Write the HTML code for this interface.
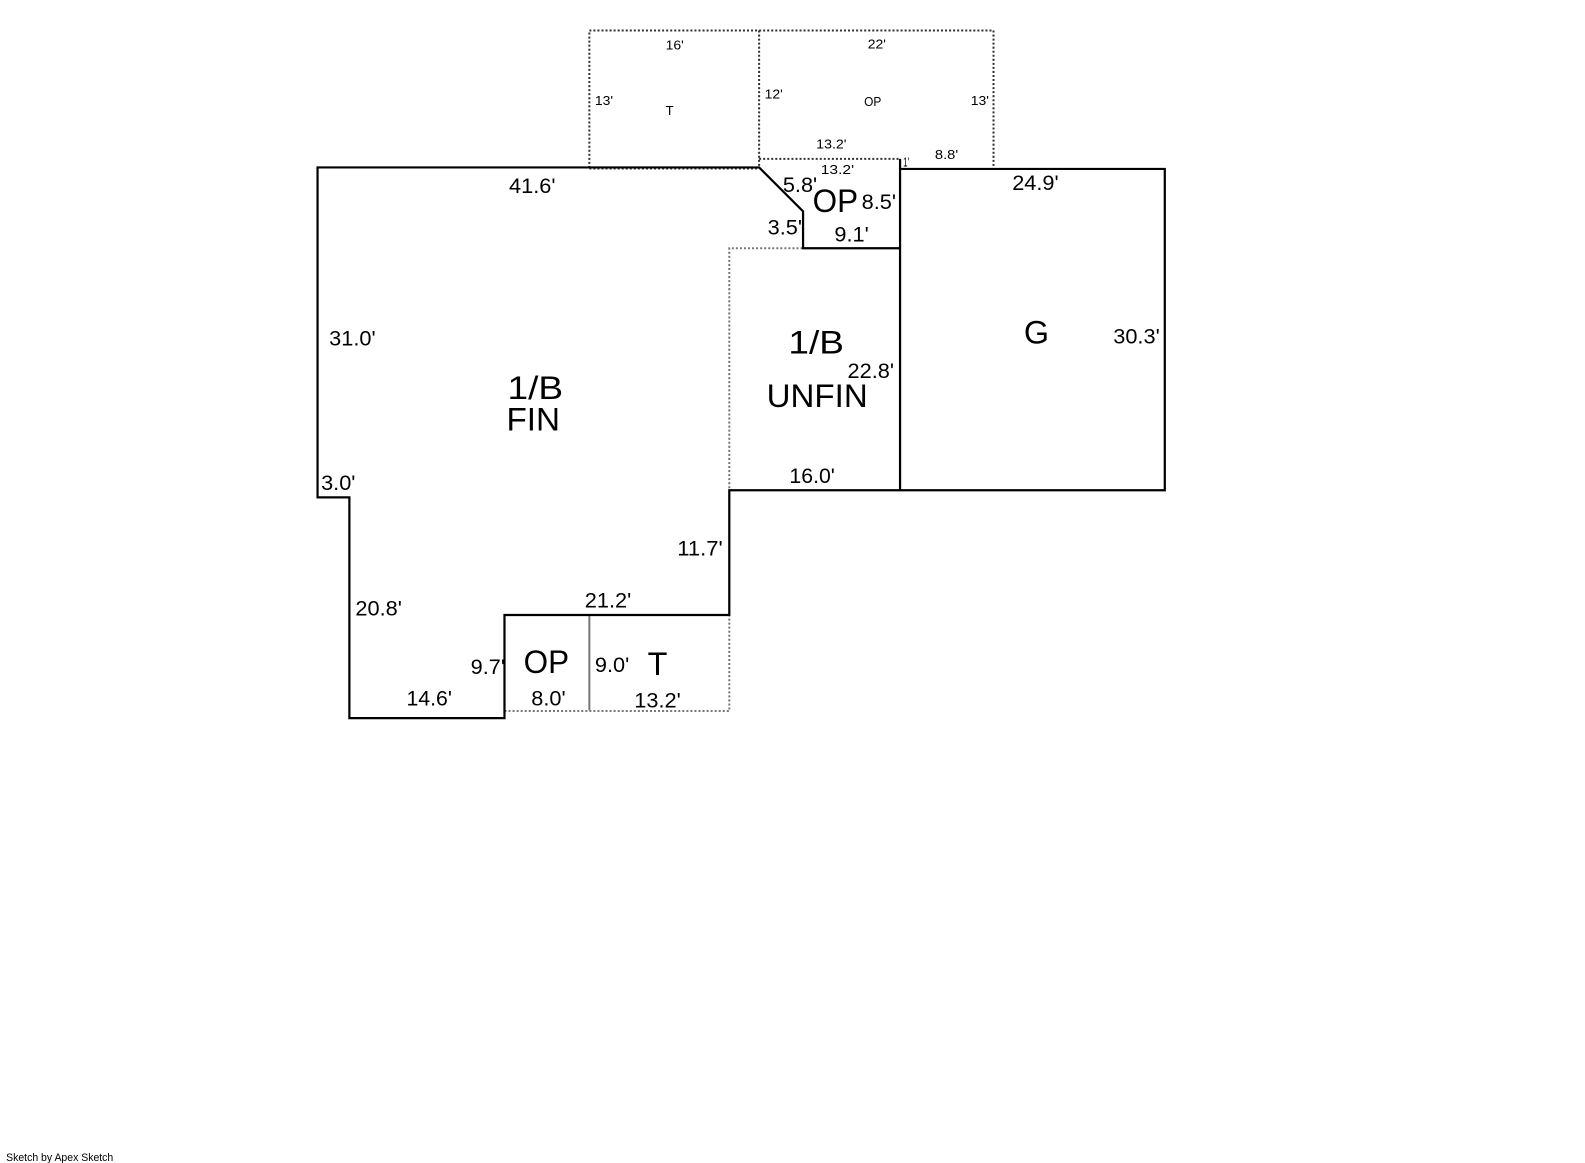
<!DOCTYPE html>
<html>
<head>
<meta charset="utf-8">
<style>
html,body{margin:0;padding:0;background:#fff;width:1585px;height:1163px;overflow:hidden}
svg{display:block}
text{font-family:"Liberation Sans",sans-serif;fill:#000;text-anchor:middle}
.m{font-size:21px}
.s{font-size:13px}
.l{font-size:32px}
</style>
</head>
<body>
<svg width="1585" height="1163" viewBox="0 0 1568.500 1151" xmlns="http://www.w3.org/2000/svg">
<g transform="translate(0.2 0.2)">
<g fill="none" stroke="#333" stroke-width="2" stroke-dasharray="2 2">
<path d="M583 166V30H983V165"/>
<path d="M751 30V165"/>
<path d="M583 166.500H751"/>
<path d="M751 157H890"/>
</g>
<g fill="none" stroke="#777" stroke-width="2" stroke-dasharray="2 2">
<path d="M794 245.500H721.500V485"/>
<path d="M499 703.500H721.500V609"/>
</g>
<path d="M583 609V703" stroke="#777" stroke-width="2" fill="none"/>
<g fill="none" stroke="#000" stroke-width="2.200">
<path d="M583 165.500H314V492H345.500V710.500H499V608.500H721.500V485H1152.500V167H890.500V485"/>
<path d="M583 165.500H751L794.500 209V245.500H890"/>
<path d="M890.500 157V167"/>
</g>
</g>
<g transform="translate(0.7 0)">
<text class="m" lengthAdjust="spacingAndGlyphs" x="526" y="191" textLength="46">41.6'</text>
<text class="m" lengthAdjust="spacingAndGlyphs" x="348" y="342" textLength="46">31.0'</text>
<text class="m" lengthAdjust="spacingAndGlyphs" x="334" y="485" textLength="34">3.0'</text>
<text class="m" lengthAdjust="spacingAndGlyphs" x="374" y="609" textLength="46">20.8'</text>
<text class="m" lengthAdjust="spacingAndGlyphs" x="692" y="550" textLength="45">11.7'</text>
<text class="m" lengthAdjust="spacingAndGlyphs" x="601" y="601" textLength="46">21.2'</text>
<text class="m" lengthAdjust="spacingAndGlyphs" x="424" y="698" textLength="45">14.6'</text>
<text class="m" lengthAdjust="spacingAndGlyphs" x="482" y="667" textLength="34">9.7'</text>
<text class="m" lengthAdjust="spacingAndGlyphs" x="542" y="698" textLength="34">8.0'</text>
<text class="m" lengthAdjust="spacingAndGlyphs" x="605" y="665" textLength="34">9.0'</text>
<text class="m" lengthAdjust="spacingAndGlyphs" x="650" y="700" textLength="46">13.2'</text>
<text class="m" lengthAdjust="spacingAndGlyphs" x="803" y="478" textLength="45">16.0'</text>
<text class="m" lengthAdjust="spacingAndGlyphs" x="861" y="374" textLength="46">22.8'</text>
<text class="m" lengthAdjust="spacingAndGlyphs" x="1124" y="340" textLength="46">30.3'</text>
<text class="m" lengthAdjust="spacingAndGlyphs" x="1024" y="188" textLength="46">24.9'</text>
<text class="m" lengthAdjust="spacingAndGlyphs" x="791" y="190" textLength="34">5.8'</text>
<text class="m" lengthAdjust="spacingAndGlyphs" x="869" y="207" textLength="34">8.5'</text>
<text class="m" lengthAdjust="spacingAndGlyphs" x="776" y="232" textLength="34">3.5'</text>
<text class="m" lengthAdjust="spacingAndGlyphs" x="842" y="239" textLength="34">9.1'</text>
<text class="l" lengthAdjust="spacingAndGlyphs" x="529" y="395" textLength="55">1/B</text>
<text class="l" lengthAdjust="spacingAndGlyphs" x="527" y="426" textLength="53">FIN</text>
<text class="l" lengthAdjust="spacingAndGlyphs" x="807" y="350" textLength="55">1/B</text>
<text class="l" lengthAdjust="spacingAndGlyphs" x="808" y="403" textLength="100">UNFIN</text>
<text class="l" x="1025" y="340">G</text>
<text class="l" lengthAdjust="spacingAndGlyphs" x="826" y="210" textLength="45">OP</text>
<text class="l" lengthAdjust="spacingAndGlyphs" x="540" y="666" textLength="45">OP</text>
<text class="l" x="650" y="668">T</text>
<text class="s" lengthAdjust="spacingAndGlyphs" x="667" y="49" textLength="18">16'</text>
<text class="s" lengthAdjust="spacingAndGlyphs" x="867" y="48" textLength="18">22'</text>
<text class="s" lengthAdjust="spacingAndGlyphs" x="597" y="104" textLength="18">13'</text>
<text class="s" lengthAdjust="spacingAndGlyphs" x="765" y="97.500" textLength="18">12'</text>
<text class="s" lengthAdjust="spacingAndGlyphs" x="969" y="104" textLength="18">13'</text>
<text class="s" x="662" y="114">T</text>
<text class="s" lengthAdjust="spacingAndGlyphs" x="863" y="105" textLength="17">OP</text>
<text class="s" lengthAdjust="spacingAndGlyphs" x="822" y="147" textLength="30">13.2'</text>
<text class="s" lengthAdjust="spacingAndGlyphs" x="828" y="172" textLength="33">13.2'</text>
<text class="s" lengthAdjust="spacingAndGlyphs" x="936" y="157.500" textLength="23">8.8'</text>
<text class="s" lengthAdjust="spacingAndGlyphs" x="896" y="165" textLength="6">1'</text>
</g>
<text x="59" y="1149" style="font-size:11px" lengthAdjust="spacingAndGlyphs" textLength="106">Sketch by Apex Sketch</text>
</svg>
</body>
</html>
